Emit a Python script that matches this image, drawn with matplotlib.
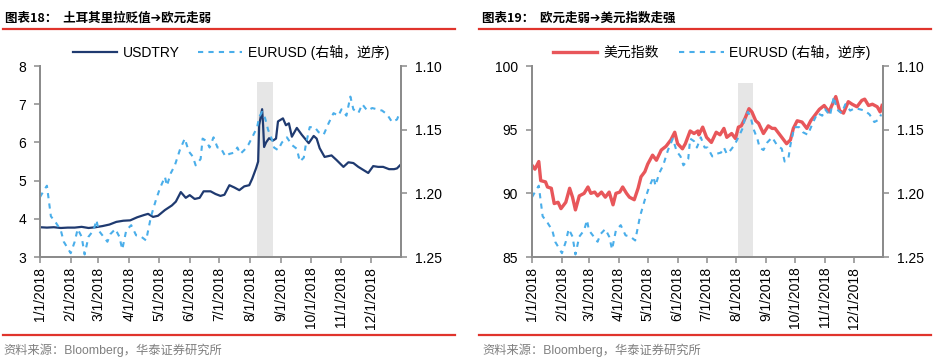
"""Two-panel FX chart: USDTRY vs EURUSD, DXY vs EURUSD (2018)."""

import matplotlib
matplotlib.use("Agg")
import matplotlib.pyplot as plt
import pandas as pd

plt.rcParams["font.family"] = ["Liberation Sans", "Noto Sans CJK SC", "DejaVu Sans"]

# ---- data ----
usdtry_dates = [
    "2018-01-01", "2018-01-08", "2018-01-15", "2018-01-22", "2018-01-29",
    "2018-02-05", "2018-02-12", "2018-02-19", "2018-02-26", "2018-03-05",
    "2018-03-12", "2018-03-19", "2018-03-26", "2018-04-02", "2018-04-09",
    "2018-04-16", "2018-04-20", "2018-04-25", "2018-04-30", "2018-05-07",
    "2018-05-14", "2018-05-18", "2018-05-23", "2018-05-28", "2018-06-01",
    "2018-06-06", "2018-06-11", "2018-06-15", "2018-06-22", "2018-06-27",
    "2018-07-02", "2018-07-06", "2018-07-11", "2018-07-16", "2018-07-21",
    "2018-07-26", "2018-07-31", "2018-08-03", "2018-08-07", "2018-08-09",
    "2018-08-10", "2018-08-13", "2018-08-14", "2018-08-15", "2018-08-17",
    "2018-08-20", "2018-08-24", "2018-08-27", "2018-08-29", "2018-09-03",
    "2018-09-06", "2018-09-09", "2018-09-12", "2018-09-17", "2018-09-22",
    "2018-09-29", "2018-10-04", "2018-10-07", "2018-10-10", "2018-10-15",
    "2018-10-22", "2018-10-27", "2018-11-03", "2018-11-08", "2018-11-13",
    "2018-11-18", "2018-11-23", "2018-11-28", "2018-12-03", "2018-12-08",
    "2018-12-13", "2018-12-19", "2018-12-24", "2018-12-27", "2018-12-30",
]
usdtry = [
    3.78, 3.77, 3.78, 3.76, 3.77,
    3.77, 3.79, 3.76, 3.78, 3.81,
    3.85, 3.92, 3.95, 3.96, 4.04,
    4.10, 4.13, 4.05, 4.08, 4.23,
    4.35, 4.45, 4.70, 4.55, 4.62,
    4.52, 4.55, 4.72, 4.72, 4.65,
    4.60, 4.63, 4.88, 4.82, 4.75,
    4.85, 4.88, 5.05, 5.33, 5.50,
    6.45, 6.87, 6.45, 5.88, 6.00,
    6.11, 6.05, 6.10, 6.55, 6.63,
    6.45, 6.50, 6.15, 6.38, 6.20,
    5.98, 6.17, 6.10, 5.85, 5.62,
    5.66, 5.54, 5.36, 5.48, 5.46,
    5.36, 5.28, 5.20, 5.38, 5.36,
    5.36, 5.30, 5.30, 5.32, 5.40,
]

eurusd_dates = [
    "2018-01-01", "2018-01-04", "2018-01-08", "2018-01-12", "2018-01-17",
    "2018-01-22", "2018-01-25", "2018-02-01", "2018-02-05", "2018-02-08",
    "2018-02-12", "2018-02-15", "2018-02-19", "2018-02-24", "2018-02-27",
    "2018-03-01", "2018-03-05", "2018-03-10", "2018-03-13", "2018-03-18",
    "2018-03-22", "2018-03-25", "2018-03-29", "2018-04-03", "2018-04-08",
    "2018-04-13", "2018-04-18", "2018-04-23", "2018-04-28", "2018-05-02",
    "2018-05-07", "2018-05-09", "2018-05-13", "2018-05-17", "2018-05-22",
    "2018-05-27", "2018-05-31", "2018-06-04", "2018-06-07", "2018-06-12",
    "2018-06-14", "2018-06-18", "2018-06-21", "2018-06-25", "2018-06-29",
    "2018-07-02", "2018-07-07", "2018-07-11", "2018-07-16", "2018-07-19",
    "2018-07-22", "2018-07-26", "2018-07-30", "2018-08-03", "2018-08-08",
    "2018-08-10", "2018-08-13", "2018-08-16", "2018-08-19", "2018-08-23",
    "2018-08-25", "2018-08-29", "2018-09-02", "2018-09-07", "2018-09-12",
    "2018-09-17", "2018-09-20", "2018-09-24", "2018-09-26", "2018-09-30",
    "2018-10-05", "2018-10-09", "2018-10-14", "2018-10-19", "2018-10-24",
    "2018-10-29", "2018-11-01", "2018-11-06", "2018-11-10", "2018-11-13",
    "2018-11-18", "2018-11-22", "2018-11-27", "2018-12-02", "2018-12-07",
    "2018-12-12", "2018-12-17", "2018-12-22", "2018-12-27", "2018-12-29",
]
eurusd = [
    1.203, 1.199, 1.194, 1.218, 1.223,
    1.229, 1.238, 1.247, 1.238, 1.228,
    1.234, 1.248, 1.234, 1.229, 1.221,
    1.229, 1.233, 1.238, 1.232, 1.228,
    1.234, 1.244, 1.229, 1.225, 1.233,
    1.234, 1.237, 1.218, 1.205, 1.196,
    1.187, 1.194, 1.184, 1.178, 1.166,
    1.157, 1.167, 1.171, 1.178, 1.173,
    1.157, 1.159, 1.164, 1.156, 1.164,
    1.164, 1.171, 1.169, 1.168, 1.164,
    1.169, 1.166, 1.162, 1.156, 1.148,
    1.140, 1.136, 1.141, 1.150, 1.158,
    1.164, 1.166, 1.160, 1.156, 1.162,
    1.165, 1.175, 1.172, 1.162, 1.148,
    1.148, 1.152, 1.154, 1.145, 1.137,
    1.139, 1.134, 1.139, 1.124, 1.134,
    1.137, 1.130, 1.135, 1.133, 1.134,
    1.135, 1.138, 1.144, 1.142, 1.138,
]

dxy_dates = [
    "2018-01-01", "2018-01-04", "2018-01-08", "2018-01-10", "2018-01-15",
    "2018-01-17", "2018-01-21", "2018-01-24", "2018-01-28", "2018-01-31",
    "2018-02-05", "2018-02-09", "2018-02-12", "2018-02-15", "2018-02-19",
    "2018-02-24", "2018-02-28", "2018-03-03", "2018-03-07", "2018-03-10",
    "2018-03-14", "2018-03-18", "2018-03-22", "2018-03-26", "2018-03-29",
    "2018-04-02", "2018-04-05", "2018-04-09", "2018-04-12", "2018-04-17",
    "2018-04-21", "2018-04-24", "2018-04-28", "2018-05-01", "2018-05-06",
    "2018-05-10", "2018-05-15", "2018-05-20", "2018-05-25", "2018-05-29",
    "2018-06-01", "2018-06-06", "2018-06-09", "2018-06-14", "2018-06-18",
    "2018-06-22", "2018-06-23", "2018-06-27", "2018-07-01", "2018-07-06",
    "2018-07-11", "2018-07-15", "2018-07-19", "2018-07-22", "2018-07-27",
    "2018-07-31", "2018-08-03", "2018-08-06", "2018-08-10", "2018-08-14",
    "2018-08-17", "2018-08-21", "2018-08-24", "2018-08-29", "2018-09-03",
    "2018-09-07", "2018-09-10", "2018-09-14", "2018-09-19", "2018-09-22",
    "2018-09-26", "2018-09-29", "2018-10-03", "2018-10-08", "2018-10-13",
    "2018-10-17", "2018-10-21", "2018-10-26", "2018-10-31", "2018-11-05",
    "2018-11-12", "2018-11-16", "2018-11-20", "2018-11-25", "2018-11-29",
    "2018-12-04", "2018-12-09", "2018-12-12", "2018-12-16", "2018-12-20",
    "2018-12-25", "2018-12-28", "2018-12-30",
]
dxy = [
    92.2, 91.9, 92.5, 91.0, 90.9,
    90.5, 90.4, 89.2, 89.3, 88.8,
    89.3, 90.4, 89.7, 88.7, 89.8,
    90.0, 90.5, 90.0, 90.1, 89.8,
    90.1, 89.7, 90.1, 89.1, 90.0,
    90.1, 90.5, 90.0, 89.7, 89.5,
    90.4, 91.3, 91.7, 92.3, 93.0,
    92.6, 93.4, 93.7, 94.2, 94.8,
    93.9, 93.5, 93.9, 94.9, 94.7,
    94.9, 94.6, 95.2, 94.4, 94.0,
    94.8, 94.6, 95.1, 94.4, 94.7,
    94.3, 95.2, 95.3, 95.9, 96.65,
    96.4, 95.7, 95.5, 94.7, 95.3,
    95.1, 95.1, 94.7, 94.2, 93.9,
    94.2, 95.1, 95.7, 95.6, 95.1,
    95.7, 96.1, 96.6, 96.9, 96.4,
    97.6, 96.5, 96.3, 97.2, 97.0,
    96.8, 97.3, 97.4, 96.9, 97.0,
    96.8, 96.4, 96.9,
]

month_ticks = pd.date_range("2018-01-01", "2018-12-01", freq="MS")
band_left = ("2018-08-08", "2018-08-24")
band_right = ("2018-08-03", "2018-08-18")

NAVY = "#1F3A70"
RED = "#E8565A"
LIGHT_BLUE = "#4AAEEA"
SPINE = "#8C8C8C"
RULE = "#E0342C"


def style_axes(ax, ax2):
    for a in (ax, ax2):
        a.spines["top"].set_visible(False)
        for side in ("left", "right", "bottom"):
            a.spines[side].set_color(SPINE)
            a.spines[side].set_linewidth(1.4)
        a.tick_params(direction="out", length=4, width=1.1, color=SPINE,
                      labelsize=10, labelcolor="black")
    ax.tick_params(axis="y", pad=6)
    ax2.tick_params(axis="y", pad=6)
    ax.set_xticks(month_ticks)
    ax.set_xticklabels([f"{d.month}/1/2018" for d in month_ticks], rotation=90)
    ax.tick_params(axis="x", pad=3)
    ax.set_xlim(pd.Timestamp("2018-01-01"), pd.Timestamp("2018-12-31"))
    ax2.set_ylim(1.25, 1.10)
    ax2.set_yticks([1.10, 1.15, 1.20, 1.25])
    ax2.set_yticklabels(["1.10", "1.15", "1.20", "1.25"])


fig = plt.figure(figsize=(9.45, 3.62), dpi=100)

# ---- left panel ----
ax_l = fig.add_axes([0.0423, 0.290, 0.382, 0.5276])
ax_l.axvspan(pd.Timestamp(band_left[0]), pd.Timestamp(band_left[1]),
             ymin=0, ymax=0.916, color="#E6E6E6", lw=0, zorder=0)
ln1, = ax_l.plot(pd.to_datetime(usdtry_dates), usdtry, color=NAVY, lw=1.6,
                 label="USDTRY")
ax_l.set_ylim(3, 8)
ax_l.set_yticks([3, 4, 5, 6, 7, 8])
ax_l2 = ax_l.twinx()
ln2, = ax_l2.plot(pd.to_datetime(eurusd_dates), eurusd, color=LIGHT_BLUE,
                  lw=1.5, ls=(0, (2.5, 2.5)), label="EURUSD (右轴，逆序)")
style_axes(ax_l, ax_l2)
ax_l.legend([ln1, ln2], [ln1.get_label(), ln2.get_label()], ncol=2,
            loc="center left", bbox_to_anchor=(73 / 945, 1 - 52 / 362),
            bbox_transform=fig.transFigure, frameon=False, fontsize=10,
            handlelength=3.2, handletextpad=0.4, columnspacing=1.3,
            borderaxespad=0, borderpad=0)

# ---- right panel ----
ax_r = fig.add_axes([0.563, 0.290, 0.3714, 0.5276])
ax_r.axvspan(pd.Timestamp(band_right[0]), pd.Timestamp(band_right[1]),
             ymin=0, ymax=0.91, color="#E6E6E6", lw=0, zorder=0)
ln3, = ax_r.plot(pd.to_datetime(dxy_dates), dxy, color=RED, lw=2.4,
                 label="美元指数")
ax_r.set_ylim(85, 100)
ax_r.set_yticks([85, 90, 95, 100])
ax_r2 = ax_r.twinx()
ln4, = ax_r2.plot(pd.to_datetime(eurusd_dates), eurusd, color=LIGHT_BLUE,
                  lw=1.5, ls=(0, (2.5, 2.5)), label="EURUSD (右轴，逆序)")
style_axes(ax_r, ax_r2)
ax_r.legend([ln3, ln4], [ln3.get_label(), ln4.get_label()], ncol=2,
            loc="center left", bbox_to_anchor=(553 / 945, 1 - 52 / 362),
            bbox_transform=fig.transFigure, frameon=False, fontsize=10,
            handlelength=3.2, handletextpad=0.4, columnspacing=1.5,
            borderaxespad=0, borderpad=0)

# ---- titles, rules, sources ----
title_font = ["Noto Sans CJK SC", "DejaVu Sans"]
fig.text(5 / 945, 1 - 18 / 362, "图表18：  土耳其里拉贬值➔欧元走弱",
         fontsize=9, fontweight="bold", family=title_font, va="center")
fig.text(482 / 945, 1 - 18 / 362, "图表19：  欧元走弱➔美元指数走强",
         fontsize=9, fontweight="bold", family=title_font, va="center")
for x0, x1 in ((3, 455), (479, 931)):
    for y in (29, 335):
        fig.add_artist(plt.Line2D([x0 / 945, x1 / 945], [1 - y / 362, 1 - y / 362],
                                  color=RULE, lw=1.6, transform=fig.transFigure))
for x0 in (3, 482):
    fig.text(x0 / 945, 1 - 350 / 362, "资料来源：Bloomberg，华泰证券研究所",
             fontsize=8.8, color="#7F7F7F", va="center",
             family=["Liberation Sans", "Noto Sans CJK SC"])

fig.savefig("out.png", dpi=100)
